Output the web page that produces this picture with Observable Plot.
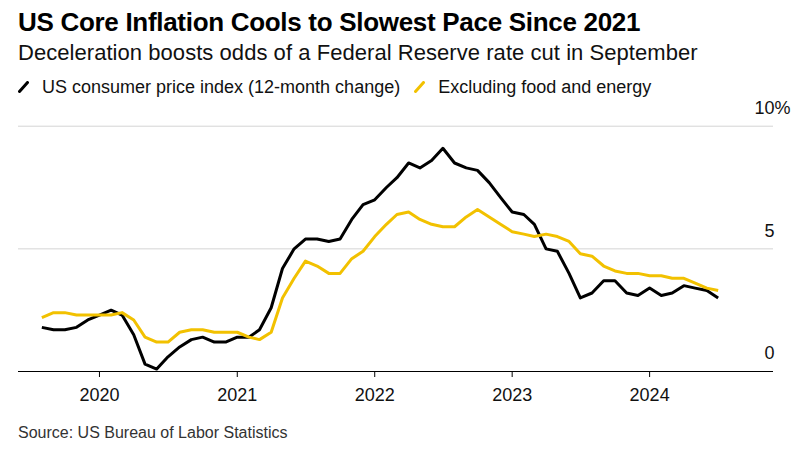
<!DOCTYPE html>
<html>
<head>
<meta charset="utf-8">
<script src="https://cdn.jsdelivr.net/npm/d3@7"></script>
<script src="https://cdn.jsdelivr.net/npm/@observablehq/plot@0.6"></script>
<style>
  html, body { margin: 0; padding: 0; background: #fff; }
  body { width: 802px; height: 453px; position: relative; overflow: hidden; font-family: "Liberation Sans", Arial, sans-serif; }
  #title, #subtitle, #legend, #source { position: absolute; left: 18px; white-space: nowrap; line-height: 1; }
  #title { top: 9px; font-size: 26px; font-weight: bold; color: #000; letter-spacing: -0.3px; }
  #subtitle { top: 42px; font-size: 22px; color: #111; letter-spacing: 0.05px; }
  #legend { top: 78px; font-size: 18px; color: #111; display: flex; align-items: center; }
  #legend .item { display: flex; align-items: center; margin-right: 14px; }
  #legend svg { margin-right: 13px; }
  #chart { position: absolute; left: 0; top: 100px; }
  #source { top: 425px; font-size: 16px; color: #333; }
</style>
</head>
<body>
<div id="title">US Core Inflation Cools to Slowest Pace Since 2021</div>
<div id="subtitle">Deceleration boosts odds of a Federal Reserve rate cut in September</div>
<div id="legend"></div>
<div id="chart"></div>
<div id="source">Source: US Bureau of Labor Statistics</div>
<script>
// Monthly 12-month % change, Jul 2019 – Jun 2024
const firstMonth = "2019-07";
const cpi = [
  1.8, 1.7, 1.7, 1.8, 2.1, 2.3,
  2.5, 2.3, 1.5, 0.3, 0.1, 0.6, 1.0, 1.3, 1.4, 1.2, 1.2, 1.4,
  1.4, 1.7, 2.6, 4.2, 5.0, 5.4, 5.4, 5.3, 5.4, 6.2, 6.8, 7.0,
  7.5, 7.9, 8.5, 8.3, 8.6, 9.1, 8.5, 8.3, 8.2, 7.7, 7.1, 6.5,
  6.4, 6.0, 5.0, 4.9, 4.0, 3.0, 3.2, 3.7, 3.7, 3.2, 3.1, 3.4,
  3.1, 3.2, 3.5, 3.4, 3.3, 3.0
];
const core = [
  2.2, 2.4, 2.4, 2.3, 2.3, 2.3,
  2.3, 2.4, 2.1, 1.4, 1.2, 1.2, 1.6, 1.7, 1.7, 1.6, 1.6, 1.6,
  1.4, 1.3, 1.6, 3.0, 3.8, 4.5, 4.3, 4.0, 4.0, 4.6, 4.9, 5.5,
  6.0, 6.4, 6.5, 6.2, 6.0, 5.9, 5.9, 6.3, 6.6, 6.3, 6.0, 5.7,
  5.6, 5.5, 5.6, 5.5, 5.3, 4.8, 4.7, 4.3, 4.1, 4.0, 4.0, 3.9,
  3.9, 3.8, 3.8, 3.6, 3.4, 3.3
];
const seriesNames = ["US consumer price index (12-month change)", "Excluding food and energy"];
const seriesColors = ["#000000", "#f2c100"];
const yTicks = [0, 5, 10];
const yTickLabels = ["0", "5", "10"];
const xTickYears = ["2020", "2021", "2022", "2023", "2024"];

// each monthly reading is drawn at the end of its month
const start = d3.utcParse("%Y-%m")(firstMonth);
const rows = [];
cpi.forEach((v, i) => rows.push({date: d3.utcMonth.offset(start, i + 1), value: v, series: seriesNames[0]}));
core.forEach((v, i) => rows.push({date: d3.utcMonth.offset(start, i + 1), value: v, series: seriesNames[1]}));

// legend
const legend = document.getElementById("legend");
seriesNames.forEach((name, i) => {
  const item = document.createElement("span");
  item.className = "item";
  item.innerHTML = `<svg width="11" height="12" viewBox="0 0 11 12"><line x1="1.5" y1="10.5" x2="9.5" y2="1.5" stroke="${seriesColors[i]}" stroke-width="3" stroke-linecap="round"/></svg><span>${name}</span>`;
  legend.appendChild(item);
});

const xTickDates = xTickYears.map(y => d3.utcParse("%Y")(y));

const plot = Plot.plot({
  width: 802,
  height: 315,
  marginLeft: 18,
  marginRight: 29,
  marginTop: 25.7,
  marginBottom: 44,
  style: {fontFamily: "Liberation Sans, Arial, sans-serif", background: "#fff", overflow: "visible"},
  x: {type: "utc", domain: [new Date(Date.UTC(2019, 4, 31)), new Date(Date.UTC(2024, 10, 25))], axis: null},
  y: {domain: [0, 10], axis: null},
  color: {domain: seriesNames, range: seriesColors},
  marks: [
    Plot.ruleY(yTicks.filter(d => d !== 0), {stroke: "#d4d4d4", strokeWidth: 1}),
    Plot.lineY(rows, {x: "date", y: "value", z: "series", stroke: "series", strokeWidth: 3, strokeLinejoin: "round", strokeLinecap: "butt"}),
    Plot.ruleY([0], {stroke: "#000", strokeWidth: 1.2}),
    Plot.axisX(xTickDates, {tickSize: 6, tickPadding: 11, tickFormat: d3.utcFormat("%Y"), fontSize: 18, stroke: "#000", fill: "#111", strokeWidth: 1}),
    Plot.text(yTicks, {y: d => d, text: (d, i) => yTickLabels[i], frameAnchor: "right", textAnchor: "end", dx: 1, dy: -18, fontSize: 18, fill: "#111"}),
    Plot.text([10], {y: d => d, text: () => "%", frameAnchor: "right", textAnchor: "start", dx: 1, dy: -18, fontSize: 18, fill: "#111"})
  ]
});
document.getElementById("chart").appendChild(plot);
</script>
</body>
</html>
